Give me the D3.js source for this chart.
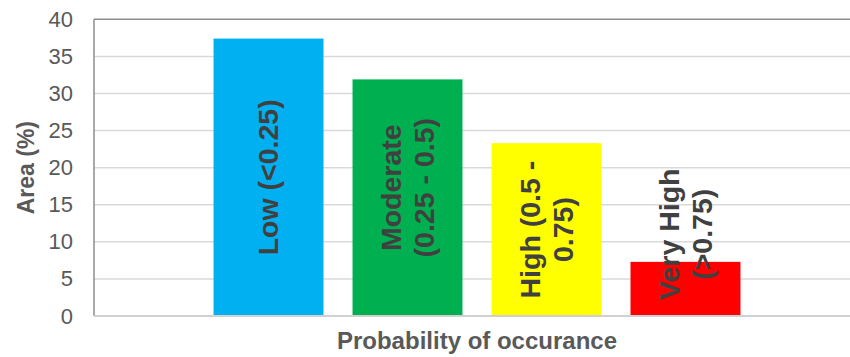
<!DOCTYPE html>
<html>
<head>
<meta charset="utf-8">
<script src="https://cdn.jsdelivr.net/npm/d3@7"></script>
<style>
  html, body { margin: 0; padding: 0; background: #fff; }
  svg { display: block; font-family: "Liberation Sans", Arial, sans-serif; }
</style>
</head>
<body>
<svg id="chart" width="850" height="357"></svg>
<script>
// Area share by probability-of-occurrence class
const category = "Probability of occurance";
const seriesNames = ["Low (<0.25)", "Moderate (0.25 - 0.5)", "High (0.5 - 0.75)", "Very High (>0.75)"];
const labelLines = [["Low (<0.25)"], ["Moderate", "(0.25 - 0.5)"], ["High (0.5 -", "0.75)"], ["Very High", "(>0.75)"]];
const areaPct = [37.4, 31.9, 23.3, 7.3];
const barColors = ["#00B0F0", "#00B050", "#FFFF00", "#FF0000"];
const yTicks = [0, 5, 10, 15, 20, 25, 30, 35, 40];

const svg = d3.select("#chart");
const plot = { left: 94, right: 860, top: 19.3, bottom: 316 };

const y = d3.scaleLinear().domain([0, 40]).range([plot.bottom, plot.top]);
const x0 = d3.scaleBand().domain([category]).range([plot.left, plot.right]);
const x1 = d3.scaleBand().domain(seriesNames)
  .range([0, x0.bandwidth()]).paddingInner(0.209).paddingOuter(0.86);

// gridlines
svg.append("g").selectAll("line").data(yTicks.filter(t => t > 0 && t < 40)).join("line")
  .attr("x1", plot.left).attr("x2", plot.right)
  .attr("y1", d => y(d)).attr("y2", d => y(d))
  .attr("stroke", "#d9d9d9").attr("stroke-width", 1.5);

// plot frame: darker top and left, light baseline
svg.append("line").attr("x1", plot.left).attr("x2", plot.right)
  .attr("y1", y(40)).attr("y2", y(40)).attr("stroke", "#8c8c8c").attr("stroke-width", 1.5);
svg.append("line").attr("x1", plot.left).attr("x2", plot.left)
  .attr("y1", y(40)).attr("y2", y(0)).attr("stroke", "#8c8c8c").attr("stroke-width", 1.5);

// y axis tick labels
const yAxis = d3.axisLeft(y).tickValues(yTicks).tickSize(0).tickPadding(21);
const gy = svg.append("g").attr("transform", `translate(${plot.left},0)`).call(yAxis);
gy.select(".domain").remove();
gy.selectAll("text").attr("font-size", 22).attr("fill", "#595959")
  .attr("font-family", "Liberation Sans, Arial, sans-serif");

// bars
const rows = seriesNames.map((s, i) => ({ s, v: areaPct[i], c: barColors[i], lines: labelLines[i] }));
const gBars = svg.append("g").attr("transform", `translate(${x0(category)},0)`);
gBars.selectAll("rect").data(rows).join("rect")
  .attr("x", d => x1(d.s)).attr("width", x1.bandwidth())
  .attr("y", d => y(d.v)).attr("height", d => y(0) - y(d.v))
  .attr("fill", d => d.c);

// baseline
svg.append("line").attr("x1", plot.left).attr("x2", plot.right)
  .attr("y1", y(0)).attr("y2", y(0)).attr("stroke", "#d0d0d0").attr("stroke-width", 2);

// rotated in-bar labels, centred on the bar but kept clear of the baseline
const labelSize = 28.5, lineGap = 33, bottomClear = 16;
const labelShift = [0, -10, 0, 0]; // small manual nudges along the bar
gBars.selectAll("g.lbl").data(rows).join("g").attr("class", "lbl")
  .each(function (d, i) {
    const g = d3.select(this);
    const t = g.append("text")
      .attr("text-anchor", "middle")
      .attr("font-size", labelSize).attr("font-weight", "bold")
      .attr("fill", "#404040");
    const n = d.lines.length;
    d.lines.forEach((ln, k) => {
      t.append("tspan").attr("x", 0)
        .attr("y", (k - (n - 1) / 2) * lineGap + labelSize * 0.35)
        .text(ln);
    });
    const len = d3.max(t.selectAll("tspan").nodes(), nd => nd.getComputedTextLength());
    let cy = (y(d.v) + y(0)) / 2 + labelShift[i];
    if (cy + len / 2 > y(0) - bottomClear) cy = y(0) - bottomClear - len / 2;
    const cx = x1(d.s) + x1.bandwidth() / 2;
    g.attr("transform", `translate(${cx},${cy}) rotate(-90)`);
  });

// axis titles
svg.append("text")
  .attr("transform", `translate(34,${(plot.top + plot.bottom) / 2}) rotate(-90)`)
  .attr("text-anchor", "middle")
  .attr("font-size", 23).attr("font-weight", "bold").attr("fill", "#595959")
  .text("Area (%)");

svg.append("text")
  .attr("x", 477).attr("y", 349)
  .attr("text-anchor", "middle")
  .attr("font-size", 24).attr("font-weight", "bold").attr("fill", "#595959")
  .text(category);
</script>
</body>
</html>
